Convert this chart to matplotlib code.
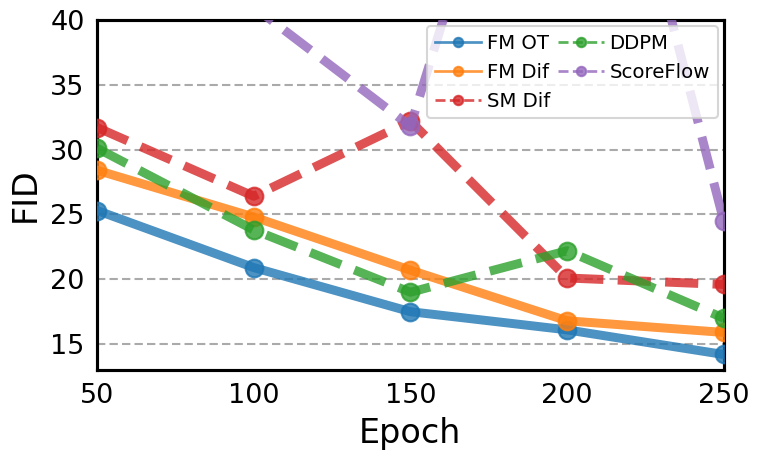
import numpy as np
import matplotlib
matplotlib.use('Agg')
import matplotlib.pyplot as plt
from matplotlib.lines import Line2D

epochs = [50, 100, 150, 200, 250]

fm_ot = [25.3, 20.9, 17.5, 16.1, 14.2]
fm_dif = [28.4, 24.8, 20.7, 16.8, 15.9]
sm_dif = [31.7, 26.4, 32.2, 20.1, 19.6]
ddpm = [30.1, 23.8, 19.0, 22.2, 17.0]
scoreflow = [60.0, 41.0, 31.8, 71.0, 24.5]

names = ['FM OT', 'FM Dif', 'SM Dif', 'DDPM', 'ScoreFlow']
series = [fm_ot, fm_dif, sm_dif, ddpm, scoreflow]
colors = ['tab:blue', 'tab:orange', 'tab:red', 'tab:green', 'tab:purple']
styles = ['-', '-', '--', '--', '--']

fig = plt.figure(figsize=(5.1, 3.08), dpi=150)
ax = fig.add_axes([0.127, 0.199, 0.819, 0.758])

for vals, c, ls in zip(series, colors, styles):
    ax.plot(epochs, vals, ls, color=c, lw=4.3, marker='o', markersize=8.5,
            alpha=0.8, zorder=3)

ax.set_xlim(50, 250)
ax.set_ylim(13, 40)
ax.set_xticks(epochs)
ax.set_yticks([15, 20, 25, 30, 35, 40])
ax.tick_params(labelsize=13, length=0, pad=6)
ax.grid(axis='y', ls='--', color='#aaaaaa', lw=1.0, dashes=(4, 2))
for s in ax.spines.values():
    s.set_linewidth(1.5)
ax.set_xlabel('Epoch', fontsize=16)
ax.set_ylabel('FID', fontsize=16)

handles = [Line2D([], [], ls=ls, color=c, lw=1.3, marker='o', markersize=4.5, alpha=0.8)
           for c, ls in zip(colors, styles)]
# order so that two columns read FM OT / FM Dif / SM Dif | DDPM / ScoreFlow
ax.legend(handles, names, ncol=2, loc='upper right', fontsize=9.5,
          handlelength=2.3, columnspacing=0.4, handletextpad=0.3,
          borderaxespad=0.3, framealpha=0.8)

fig.savefig('out.png', dpi=150)
